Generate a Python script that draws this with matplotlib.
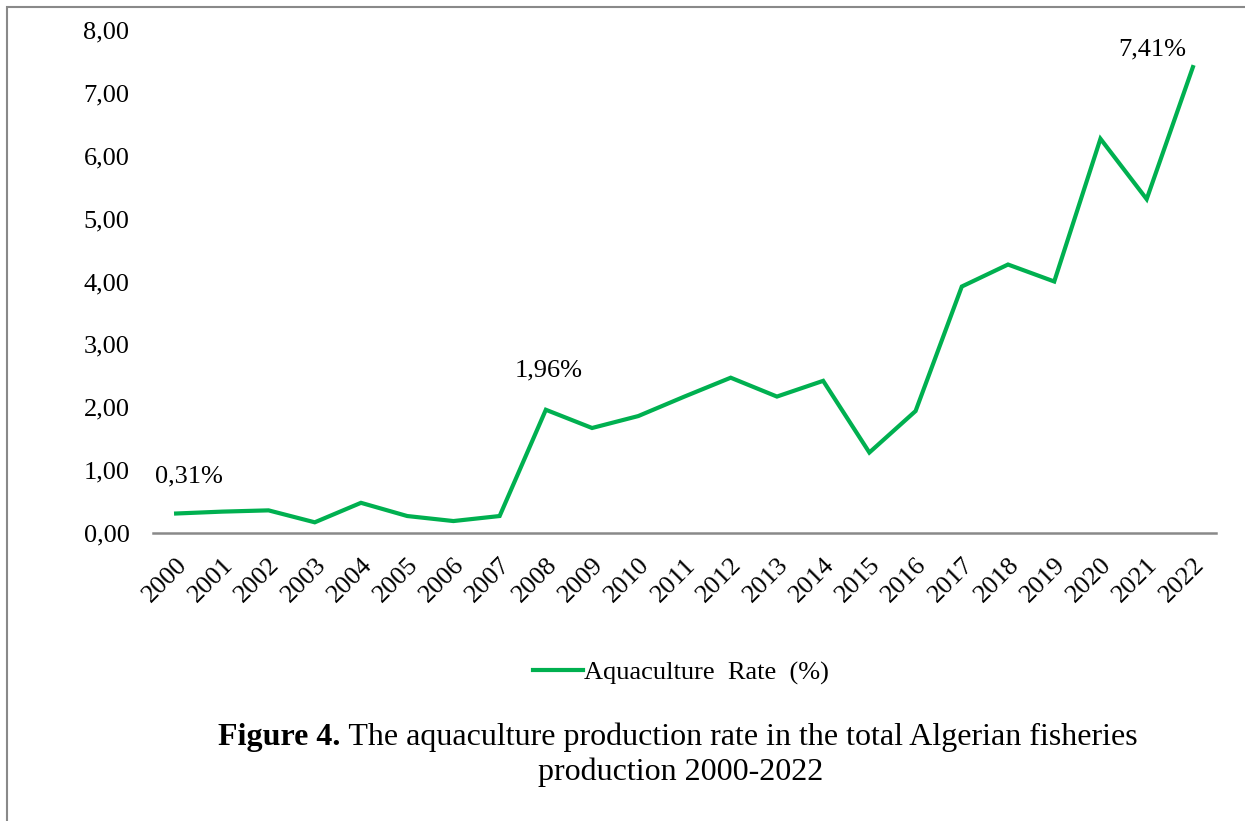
"""
aquaculture share of total algerian fisheries production, 2000-2022
outputs: out.png
"""

import matplotlib.pyplot as plt
import matplotlib.transforms as mtransforms
from matplotlib.patches import Rectangle
from matplotlib.ticker import FuncFormatter

# -- DATA --
years = [str(y) for y in range(2000, 2023)]
rate = [0.31, 0.34, 0.36, 0.17, 0.48, 0.27, 0.19, 0.27, 1.96, 1.67, 1.86, 2.17,
        2.47, 2.17, 2.42, 1.28, 1.94, 3.92, 4.27, 4.00, 6.27, 5.31, 7.41]
labelled = {"2000": (9, 27), "2008": (2, 28), "2022": (-29, 13)}

# -- STYLE --
W, H = 1245, 821
GREEN = "#00B050"
GREY = "#898989"
FS = 19

plt.rcParams["font.family"] = ["Liberation Serif", "DejaVu Serif"]

fig = plt.figure(figsize=(W / 100, H / 100), dpi=100)
ax = fig.add_axes([153 / W, 1 - 533 / H, (1216 - 153) / W, (533 - 30) / H])

x = list(range(len(years)))
ax.plot(x, rate, color=GREEN, linewidth=3, solid_joinstyle="miter",
        label="Aquaculture  Rate  (%)")

for i, yr in enumerate(years):
    if yr in labelled:
        dx, dy = labelled[yr]
        ax.annotate(f"{rate[i]:.2f}%".replace(".", ","), (i, rate[i]),
                    xytext=(dx, dy), textcoords="offset points",
                    ha="center", va="center", fontsize=FS)

ax.set_xlim(-0.5, len(years) - 0.5)
ax.set_ylim(0, 8)
ax.set_yticks(range(0, 9))
ax.yaxis.set_major_formatter(FuncFormatter(lambda v, _: f"{v:.2f}".replace(".", ",")))
ax.set_xticks(x)
ax.set_xticklabels(years, rotation=45, ha="right", va="top", rotation_mode="anchor")

# nudge rotated year labels slightly left
shift = mtransforms.ScaledTranslation(-5 / 100, 0, fig.dpi_scale_trans)
for lbl in ax.get_xticklabels():
    lbl.set_transform(lbl.get_transform() + shift)

for side in ["top", "right", "left"]:
    ax.spines[side].set_visible(False)
ax.spines["bottom"].set_color(GREY)
ax.spines["bottom"].set_linewidth(1.8)
ax.tick_params(axis="both", length=0, labelsize=FS)
ax.tick_params(axis="y", pad=17)
ax.tick_params(axis="x", pad=15)

fig.legend(loc="center", bbox_to_anchor=(681 / W, 1 - 673 / H), frameon=False,
           fontsize=FS, handlelength=1.9, handletextpad=0.05)

# caption: bold lead-in followed by regular text, centred as a whole
CAP = 23
renderer = fig.canvas.get_renderer()
y1 = 1 - 737 / H
t_bold = fig.text(0, y1, "Figure 4.", fontsize=CAP, fontweight="bold", va="center")
t_rest = fig.text(0, y1, " The aquaculture production rate in the total Algerian fisheries",
                  fontsize=CAP, va="center")
wb = t_bold.get_window_extent(renderer).width
wr = t_rest.get_window_extent(renderer).width
x0 = 678 - (wb + wr) / 2
t_bold.set_x(x0 / W)
t_rest.set_x((x0 + wb) / W)
fig.text(681 / W, 1 - 772 / H, "production 2000-2022", fontsize=CAP,
         ha="center", va="center")

# page frame
fig.add_artist(Rectangle((7 / W, -0.1), 1.2, 1 - 7 / H + 0.1, transform=fig.transFigure,
                         fill=False, edgecolor=GREY, linewidth=1.5))

fig.savefig("out.png", dpi=100)
